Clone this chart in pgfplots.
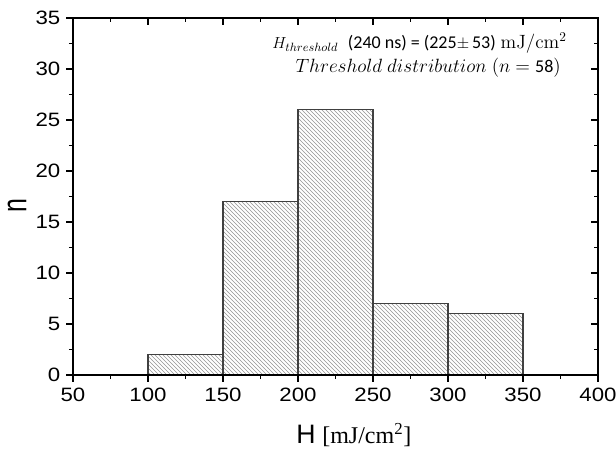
\documentclass[border=0pt]{standalone}
\usepackage[no-math]{fontspec}
\setmainfont{Liberation Sans}
\newfontfamily\serif{Liberation Serif}
\newfontfamily\calib{Carlito}
\newfontfamily\ticksans[FakeStretch=1.15]{Liberation Sans}
\newfontfamily\nfont[FakeStretch=0.72]{Liberation Sans}
\usepackage{pgfplots}
\pgfplotsset{compat=1.18}
\usetikzlibrary{patterns}

\begin{document}
\begin{tikzpicture}[x=0.75pt,y=0.75pt]
% fixed page frame (in px units of the drawing grid)
\useasboundingbox (-73,-77) rectangle (543,375);
\begin{axis}[
  at={(0,0)}, anchor=south west,
  scale only axis,
  width=393.75pt, height=267.75pt,
  xmin=50, xmax=400, ymin=0, ymax=35,
  xtick={50,100,...,400}, ytick={0,5,...,35},
  minor x tick num=1, minor y tick num=1,
  xtick pos=bottom, ytick pos=left,
  tick align=outside,
  major tick length=5pt, minor tick length=3pt,
  tick style={line width=1pt, black},
  axis line style={line width=1.3pt},
  /pgf/number format/assume math mode=true,
  tick label style={font=\ticksans\fontsize{14.5}{15}\selectfont},
  xticklabel style={yshift=-1pt},
  yticklabel style={xshift=-1pt},
  xlabel={H\hspace{0.25em}{\serif\fontsize{18}{20}\selectfont [mJ/cm\textsuperscript{2}]}},
  ylabel={n},
  xlabel style={font=\fontsize{20}{21}\selectfont,
    at={(axis description cs:0.535,0)}, anchor=base, yshift=-51pt},
  ylabel style={font=\nfont\fontsize{26}{27}\selectfont,
    at={(axis description cs:-0.1067,0.476)}, anchor=center},
]
\addplot[ybar interval, draw=black!75, line width=0.9pt,
         pattern=north west lines, pattern color=black!42]
  coordinates {(100,2) (150,17) (200,26) (250,7) (300,6) (350,6)};

\node[anchor=base east, inner sep=0pt, font=\fontsize{13}{14}\selectfont] at (axis cs:379.3,32.0)
  {$H_{threshold}$\ \ {\calib\fontsize{13.5}{14}\selectfont (240 ns) = (225}$\pm$\,{\calib\fontsize{13.5}{14}\selectfont 53)}\ {\fontsize{14}{15}\selectfont$\mathrm{mJ/cm^2}$}};
\node[anchor=base east, inner sep=0pt, font=\fontsize{13.7}{14}\selectfont] at (axis cs:375.3,29.7)
  {$Threshold\ distribution$ $(n$ $=$ {\calib\fontsize{13.5}{14}\selectfont 58}$)$};
\end{axis}
% top and right mirrored ticks, pointing inward
\begin{axis}[
  at={(0,0)}, anchor=south west,
  scale only axis,
  width=393.75pt, height=267.75pt,
  xmin=50, xmax=400, ymin=0, ymax=35,
  xtick={50,100,...,400}, ytick={0,5,...,35},
  minor x tick num=1, minor y tick num=1,
  xtick pos=top, ytick pos=right,
  tick align=inside,
  major tick length=5pt, minor tick length=3pt,
  tick style={line width=1pt, black},
  axis line style={line width=1.3pt},
  xticklabels={}, yticklabels={},
]
\end{axis}
\end{tikzpicture}
\end{document}
